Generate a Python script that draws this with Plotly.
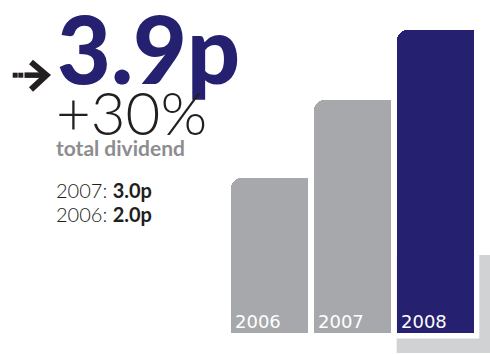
import plotly.graph_objects as go

# Dividend per share (pence)
years = ["2006", "2007", "2008"]
dividend = [2.0, 3.0, 3.9]
headline = "3.9p"
growth = "+30%"
caption = "total dividend"
history_labels = ["2007: ", "2006: "]
history_values = ["3.0p", "2.0p"]

NAVY = "#25206f"
GREY = "#a7a8ab"
SHADOW = "#d1d2d4"
DARK = "#231f20"
CAPTION = "#8c8d90"

W, H = 490, 354
bar_colors = [GREY, GREY, NAVY]
xs = list(range(len(years)))
bar_w = 0.935

# axis ranges: 83 px per category, 77.6 px per penny
x0, x1 = -3.247, -3.247 + W / 83
y0, y1 = -0.2745, -0.2745 + H / 77.6
px_x = (x1 - x0) / W
px_y = (y1 - y0) / H

fig = go.Figure()

# rounded-top bars
fig.add_trace(go.Bar(
    x=xs, y=dividend, width=bar_w,
    marker=dict(color=bar_colors, line=dict(width=0), cornerradius=10),
    hoverinfo="skip", showlegend=False,
))
# square right half so only the top-left corner is rounded
fig.add_trace(go.Bar(
    x=xs, y=dividend, width=bar_w / 2, offset=0,
    marker=dict(color=bar_colors, line=dict(width=0)),
    hoverinfo="skip", showlegend=False,
))

# offset shadow behind the latest bar
last = len(xs) - 1
left = xs[last] - bar_w / 2
right = xs[last] + bar_w / 2
shapes = [
    dict(type="rect", xref="x", yref="y", layer="below",
         x0=left, x1=x1 + 1, y0=y0 + 1 * px_y, y1=1.0,
         line=dict(width=0), fillcolor=SHADOW),
    dict(type="rect", xref="x", yref="y", layer="below",
         x0=left, x1=right + 5 * px_x, y0=-5.8 * px_y, y1=dividend[last],
         line=dict(width=0), fillcolor="white"),
]

# arrow marker in front of the headline (pixel positions)
def P(x, y):
    return x / W, 1 - y / H

for sx in (12.7, 18.3):
    a, b = P(sx, 72.7)
    c, d = P(sx + 5, 77.7)
    shapes.append(dict(type="rect", xref="paper", yref="paper",
                       x0=a, x1=c, y0=d, y1=b, line=dict(width=0),
                       fillcolor=DARK))
a, b = P(24.5, 72.4)
c, d = P(44, 77.9)
shapes.append(dict(type="rect", xref="paper", yref="paper",
                   x0=a, x1=c, y0=d, y1=b, line=dict(width=0), fillcolor=DARK))
pts = [P(31, 62), P(46.5, 75.2), P(31, 89.5)]
path = "M {} {} L {} {} L {} {}".format(*[v for p in pts for v in p])
shapes.append(dict(type="path", xref="paper", yref="paper", path=path,
                   line=dict(color=DARK, width=6), fillcolor="rgba(0,0,0,0)"))

annotations = []
# year labels inside the bars
for x, yr in zip(xs, years):
    annotations.append(dict(
        x=x - bar_w / 2, y=0, xref="x", yref="y", text=yr,
        xanchor="left", yanchor="bottom", xshift=2, yshift=-1, showarrow=False,
        font=dict(family="DejaVu Sans", size=18, color="white"),
    ))

def text_at(px, py, txt, size, color, family, weight=None):
    xa, ya = P(px, py)
    f = dict(family=family, size=size, color=color)
    if weight is not None:
        f["weight"] = weight
    annotations.append(dict(x=xa, y=ya, xref="paper", yref="paper", text=txt,
                            xanchor="left", yanchor="middle", showarrow=False,
                            font=f, borderpad=0))

text_at(55.5, 48, headline, 93, NAVY, "Lato", 900)
text_at(55, 112, growth, 60, DARK, "Lato", 300)
text_at(55, 147, caption, 21, CAPTION, "Lato", 700)
for i, (lab, val) in enumerate(zip(history_labels, history_values)):
    txt = "<span style='font-weight:300'>{}</span><b>{}</b>".format(lab, val)
    text_at(55, 190 + i * 24, txt, 20, DARK, "Lato")

fig.update_layout(
    width=W, height=H, margin=dict(l=0, r=0, t=0, b=0),
    paper_bgcolor="white", plot_bgcolor="white",
    barmode="overlay", bargap=0,
    xaxis=dict(range=[x0, x1], visible=False, fixedrange=True),
    yaxis=dict(range=[y0, y1], visible=False, fixedrange=True),
    shapes=shapes, annotations=annotations,
)

fig.write_html("out.html")
